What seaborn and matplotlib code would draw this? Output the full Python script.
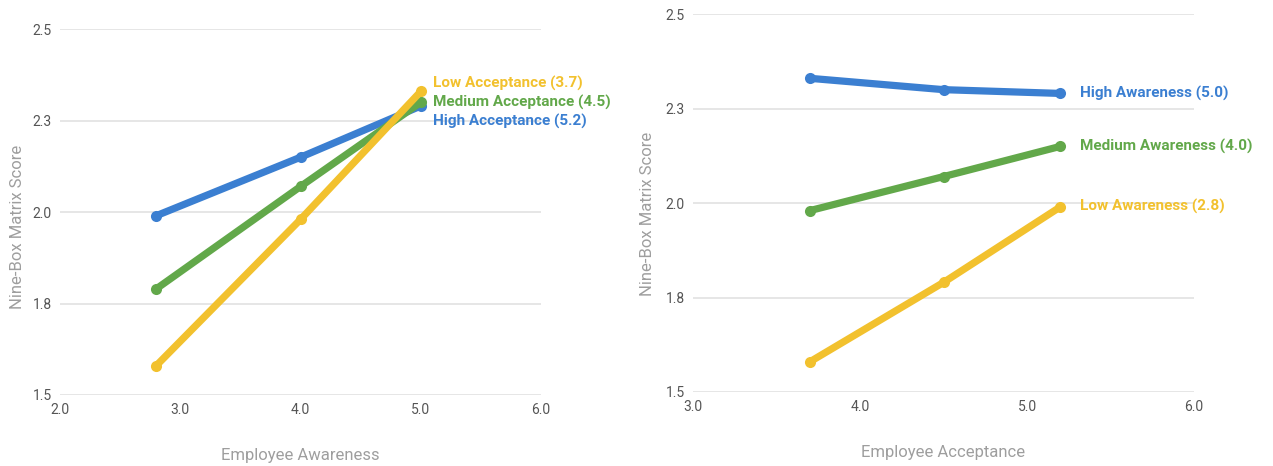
import matplotlib
matplotlib.use("Agg")
import matplotlib.pyplot as plt
import seaborn as sns
import pandas as pd
from matplotlib.ticker import FixedLocator, FixedFormatter

# Mean nine-box score by awareness level (rows) and acceptance level (columns)
awareness_levels = [2.8, 4.0, 5.0]
acceptance_levels = [3.7, 4.5, 5.2]
scores_low_awareness = [1.58, 1.79, 1.99]
scores_medium_awareness = [1.98, 2.07, 2.15]
scores_high_awareness = [2.33, 2.30, 2.29]

awareness_names = ["Low Awareness", "Medium Awareness", "High Awareness"]
acceptance_names = ["Low Acceptance", "Medium Acceptance", "High Acceptance"]

y_ticks = [1.5, 1.75, 2.0, 2.25, 2.5]
y_tick_labels = ["1.5", "1.8", "2.0", "2.3", "2.5"]
left_x_ticks = [2.0, 3.0, 4.0, 5.0, 6.0]
right_x_ticks = [3.0, 4.0, 5.0, 6.0]

score_rows = [scores_low_awareness, scores_medium_awareness, scores_high_awareness]

records = []
for aw_name, aw_val, row in zip(awareness_names, awareness_levels, score_rows):
    for ac_name, ac_val, score in zip(acceptance_names, acceptance_levels, row):
        records.append({
            "awareness": aw_val, "awareness_group": f"{aw_name} ({aw_val:.1f})",
            "acceptance": ac_val, "acceptance_group": f"{ac_name} ({ac_val:.1f})",
            "score": score,
        })
df = pd.DataFrame(records)

BLUE, GREEN, YELLOW = "#3b7fd1", "#62a84a", "#f2c12e"

sns.set_theme(style="white")
plt.rcParams["font.family"] = ["Roboto", "DejaVu Sans"]

fig = plt.figure(figsize=(12.73, 4.66), dpi=100)
ax1 = fig.add_axes([0.0471, 0.1524, 0.378, 0.785])
ax2 = fig.add_axes([0.5444, 0.1588, 0.3936, 0.811])


def style_axes(ax, xticks, xlim, xlabel, ylabel_pos):
    ax.set_ylim(1.5, 2.5)
    ax.set_xlim(*xlim)
    ax.yaxis.set_major_locator(FixedLocator(y_ticks))
    ax.yaxis.set_major_formatter(FixedFormatter(y_tick_labels))
    ax.set_xticks(xticks)
    ax.set_xticklabels([f"{t:.1f}" for t in xticks])
    ax.grid(axis="y", color="#e2e2e2", linewidth=1.2, zorder=0)
    ax.grid(axis="x", visible=False)
    for s in ax.spines.values():
        s.set_visible(False)
    ax.tick_params(axis="both", length=0, labelsize=10, labelcolor="#555555")
    ax.tick_params(axis="y", pad=6)
    ax.tick_params(axis="x", pad=6)
    ax.set_xlabel(xlabel, fontsize=12, color="#9e9e9e", labelpad=22)
    ax.set_ylabel("Nine-Box Matrix Score", fontsize=12, color="#9e9e9e")
    ax.yaxis.set_label_coords(*ylabel_pos)
    ax.set_axisbelow(True)


line_kw = dict(marker="o", linewidth=5.2, markersize=8, markeredgewidth=0,
               legend=False, zorder=3)

# Left panel: score vs awareness, one line per acceptance level
left_order = [f"{n} ({v:.1f})" for n, v in zip(acceptance_names, acceptance_levels)][::-1]
left_colors = {left_order[0]: BLUE, left_order[1]: GREEN, left_order[2]: YELLOW}
sns.lineplot(data=df, x="awareness", y="score", hue="acceptance_group",
             hue_order=left_order, palette=left_colors, ax=ax1, **line_kw)
style_axes(ax1, left_x_ticks, (2.0, 6.0), "Employee Awareness", (-0.072, 0.46))

# end labels are spread vertically so the three close endpoints stay readable
left_offsets = {left_order[2]: 6, left_order[1]: 0, left_order[0]: -10.8}
for grp in left_order:
    sub = df[df["acceptance_group"] == grp].sort_values("awareness")
    last = sub.iloc[-1]
    ax1.annotate(grp, xy=(last["awareness"], last["score"]),
                 xytext=(9, left_offsets[grp]),
                 textcoords="offset points", va="center", ha="left",
                 fontsize=11, fontweight="bold", color=left_colors[grp])

# Right panel: score vs acceptance, one line per awareness level
right_order = [f"{n} ({v:.1f})" for n, v in zip(awareness_names, awareness_levels)][::-1]
right_colors = {right_order[0]: BLUE, right_order[1]: GREEN, right_order[2]: YELLOW}
sns.lineplot(data=df, x="acceptance", y="score", hue="awareness_group",
             hue_order=right_order, palette=right_colors, ax=ax2, **line_kw)
style_axes(ax2, right_x_ticks, (3.0, 6.0), "Employee Acceptance", (-0.076, 0.47))

for grp in right_order:
    sub = df[df["awareness_group"] == grp].sort_values("acceptance")
    last = sub.iloc[-1]
    ax2.annotate(grp, xy=(last["acceptance"], last["score"]),
                 xytext=(14, 0), textcoords="offset points", va="center",
                 ha="left", fontsize=11, fontweight="bold",
                 color=right_colors[grp])

fig.savefig("out.png", dpi=100, facecolor="white")
